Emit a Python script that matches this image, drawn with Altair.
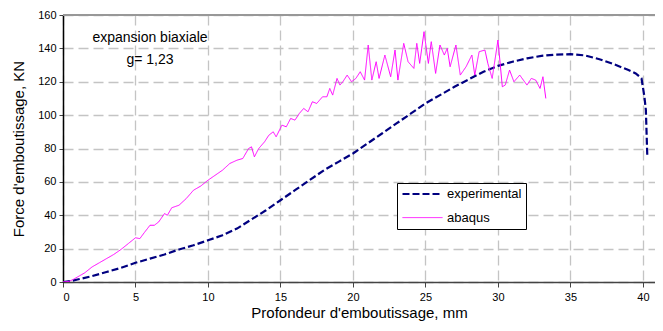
import altair as alt
import pandas as pd

# experimental curve
exp_x = [0, 0.5, 1, 2, 3, 4, 5, 6, 7, 8, 9, 10, 11, 12, 13, 14, 15, 16, 17, 18, 19,
         20, 21, 22, 23, 24, 25, 26, 27, 28, 29, 30, 31, 32, 33, 34, 35, 36, 37, 38,
         39, 39.5, 39.9, 40.1, 40.2, 40.3]
exp_y = [0, 0.5, 1.5, 3.5, 6, 8.5, 11.5, 14, 16.5, 19.5, 22, 25, 28, 32, 37.5, 43, 49,
         55, 61, 67, 72, 77, 83, 89, 95, 101, 107, 112, 117, 121.5, 126, 129.5, 132,
         134, 135.5, 136.3, 136.5, 135.8, 133.5, 130.5, 127, 125, 122, 111, 103, 75]

# abaqus curve
abq_x = [0, 0.4, 0.7, 1, 1.5, 2, 2.5, 3, 3.5, 4, 4.5, 5, 5.3, 5.6, 6, 6.3, 6.6, 7, 7.2,
         7.5, 8, 8.5, 9, 9.5, 10, 10.5, 11, 11.5, 12, 12.4, 12.8, 13, 13.2, 13.5, 13.9,
         14.2, 14.5, 14.7, 15.1, 15.4, 15.7, 16, 16.3, 16.6, 16.9, 17.2, 17.5, 17.9,
         18.2, 18.4, 18.6, 18.9, 19.1, 19.3, 19.6, 19.9, 20.2, 20.5, 20.8, 21.05, 21.3,
         21.6, 21.8, 22.2, 22.6, 22.9, 23.1, 23.5, 23.8, 24.2, 24.4, 24.6, 24.9, 25.2,
         25.4, 25.7, 26.0, 26.3, 26.5, 26.7, 27.1, 27.4, 27.8, 28.2, 28.4, 28.7, 29.1,
         29.3, 29.6, 30.0, 30.3, 30.5, 30.8, 31.1, 31.5, 32.0, 32.3, 32.6, 32.9, 33.1,
         33.3]
abq_y = [0, 0.3, 1.5, 3, 5.5, 9, 11.5, 14, 16.5, 19.5, 23, 26.5, 26, 29.5, 34, 34, 36,
         41, 40, 44.5, 46, 50, 55, 57.5, 61, 64, 67, 71, 73, 74, 80, 81, 75, 80, 84, 88,
         90, 87, 94, 93, 98, 97, 101, 104, 102, 108, 107, 111, 111, 116, 112, 122, 118,
         120, 124, 120, 122, 126, 121, 142, 121, 132, 122, 136, 123, 139, 121, 143, 132,
         128, 143, 131, 150, 131, 144, 125, 142, 136, 140, 129, 142, 124, 129, 136, 124,
         138, 139, 131, 122, 145, 117, 118, 127, 120, 124, 118, 122, 121, 116, 123, 110]

series_names = ["experimental", "abaqus"]
series_colors = ["#000080", "#FF00FF"]

x_ticks = [0, 5, 10, 15, 20, 25, 30, 35, 40]
y_ticks = [0, 20, 40, 60, 80, 100, 120, 140, 160]

note_lines = ["expansion biaxiale", "g= 1,23"]
note_x = [6, 6]
note_y = [146, 133]

df = pd.concat([
    pd.DataFrame({"x": exp_x, "y": exp_y, "serie": "experimental", "o": range(len(exp_x))}),
    pd.DataFrame({"x": abq_x, "y": abq_y, "serie": "abaqus", "o": range(len(abq_x))}),
])
notes = pd.DataFrame({"t": note_lines, "x": note_x, "y": note_y})

W, H = 592, 267
FONT = "Liberation Sans"

xscale = alt.Scale(domain=[0, 40.83], nice=False, zero=False)
yscale = alt.Scale(domain=[0, 160], nice=False)

x_axis = alt.Axis(values=x_ticks, title="Profondeur d'emboutissage, mm",
                  grid=True, tickSize=5, labelPadding=4, titlePadding=3,
                  domainColor="#444444", domainWidth=1.5, labelOverlap=False)
y_axis = alt.Axis(values=y_ticks, title="Force d'emboutissage, KN",
                  grid=True, tickSize=4, labelPadding=3, titlePadding=11,
                  domainColor="#000000", domainWidth=1.5, labelOverlap=False)

lines = alt.Chart(df).mark_line(clip=True).encode(
    x=alt.X("x:Q", scale=xscale, axis=x_axis),
    y=alt.Y("y:Q", scale=yscale, axis=y_axis),
    color=alt.Color("serie:N", scale=alt.Scale(domain=series_names, range=series_colors),
                    title=None),
    strokeDash=alt.StrokeDash("serie:N", scale=alt.Scale(domain=series_names,
                                                         range=[[7, 3], [1, 0]]),
                              title=None),
    strokeWidth=alt.StrokeWidth("serie:N", scale=alt.Scale(domain=series_names,
                                                           range=[2.2, 1]),
                                title=None),
    order="o:Q",
)

top_border = alt.Chart(df).mark_rule(color="#999999", strokeWidth=1.5).encode(
    x=alt.value(0), x2=alt.value(W), y=alt.value(0)
)

text = alt.Chart(notes).mark_text(font=FONT, fontSize=14, color="#000000",
                                  align="center").encode(
    x=alt.X("x:Q", scale=xscale, axis=x_axis),
    y=alt.Y("y:Q", scale=yscale, axis=y_axis),
    text="t:N",
)

chart = alt.layer(top_border, lines, text).properties(
    width=W, height=H,
    autosize=alt.AutoSizeParams(type="none"),
    padding={"left": 55, "top": 7, "right": 0, "bottom": 41},
).configure_view(stroke=None).configure_axis(
    labelFont=FONT, titleFont=FONT, labelFontSize=11, titleFontSize=15,
    labelColor="#000000", titleColor="#000000", titleFontWeight="normal",
    tickColor="#444444", gridColor="#c4c4c4", gridDash=[10, 5], gridWidth=1.3,
).configure_legend(
    orient="none", legendX=334, legendY=168, strokeColor="#000000", fillColor="#ffffff",
    padding=4, symbolType="stroke", symbolSize=1600, labelFont=FONT, labelFontSize=13,
    labelColor="#000000", rowPadding=9.6, clipHeight=14, labelOffset=3, cornerRadius=0,
)

chart.save("out.html", embed_options={"renderer": "svg", "actions": False})
